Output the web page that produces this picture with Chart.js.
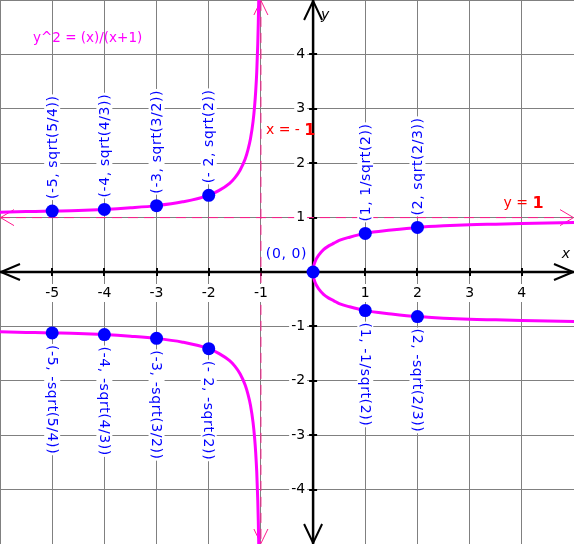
<!DOCTYPE html>
<html>
<head>
<meta charset="utf-8">
<script src="https://cdn.jsdelivr.net/npm/chart.js@4"></script>
<style>
html,body{margin:0;padding:0;background:#fff;overflow:hidden;}
canvas{display:block;}
</style>
</head>
<body>
<canvas id="c" width="574" height="544"></canvas>
<script>
// ---- data ----
const titleText = "y^2 = (x)/(x+1)";

// upper-left branch
const leftX     = [-6, -5.5, -5, -4.5, -4, -3.5, -3, -2.5, -2, -1.8, -1.6, -1.5, -1.4, -1.3, -1.25, -1.2, -1.15, -1.12, -1.1, -1.08, -1.06, -1.05, -1.04];
const leftUpY   = [1.10, 1.11, 1.12, 1.13, 1.15, 1.18, 1.22, 1.29, 1.41, 1.50, 1.63, 1.73, 1.87, 2.08, 2.24, 2.45, 2.77, 3.06, 3.32, 3.67, 4.20, 4.58, 5.10];
const leftDownY = [-1.10, -1.11, -1.12, -1.13, -1.15, -1.18, -1.22, -1.29, -1.41, -1.50, -1.63, -1.73, -1.87, -2.08, -2.24, -2.45, -2.77, -3.06, -3.32, -3.67, -4.20, -4.58, -5.10];

// right branch
const rightX     = [0, 0.01, 0.02, 0.05, 0.1, 0.2, 0.3, 0.4, 0.5, 0.7, 1, 1.5, 2, 2.5, 3, 3.5, 4, 4.5, 5];
const rightUpY   = [0, 0.10, 0.14, 0.22, 0.30, 0.41, 0.48, 0.53, 0.58, 0.64, 0.71, 0.77, 0.82, 0.85, 0.87, 0.88, 0.89, 0.90, 0.91];
const rightDownY = [0, -0.10, -0.14, -0.22, -0.30, -0.41, -0.48, -0.53, -0.58, -0.64, -0.71, -0.77, -0.82, -0.85, -0.87, -0.88, -0.89, -0.90, -0.91];

// marked points and their labels
const pointX = [-5, -4, -3, -2, -5, -4, -3, -2, 0, 1, 2, 1, 2];
const pointY = [1.12, 1.15, 1.22, 1.41, -1.12, -1.15, -1.22, -1.41, 0, 0.71, 0.82, -0.71, -0.82];
const pointLabels = [
  "(-5, sqrt(5/4))", "(-4, sqrt(4/3))", "(-3, sqrt(3/2))", "(- 2, sqrt(2))",
  "(-5, -sqrt(5/4))", "(-4, -sqrt(4/3))", "(-3, -sqrt(3/2))", "(- 2, -sqrt(2))",
  "(0, 0)",
  "(1, 1/sqrt(2))", "(2, sqrt(2/3))",
  "(1, -1/sqrt(2))", "(2, -sqrt(2/3))"
];

// asymptotes
const asymptoteXValue = -1;
const asymptoteYValue = 1;

// tick labels
const xTicks = [-5, -4, -3, -2, -1, 1, 2, 3, 4];
const xTickLabels = ["-5", "-4", "-3", "-2", "-1", "1", "2", "3", "4"];
const yTicks = [4, 3, 2, 1, -1, -2, -3, -4];
const yTickLabels = ["4", "3", "2", "1", "-1", "-2", "-3", "-4"];

// ---- build chart ----
const FONT = '"DejaVu Sans", Verdana, sans-serif';
const MAGENTA = '#ff00ff';
const PINK = '#ff1a8c';
const BLUE = '#0000ff';

function pairs(xs, ys) { return xs.map((v, i) => ({x: v, y: ys[i]})); }

function boxText(ctx, text, x, y, align) {
  const w = ctx.measureText(text).width;
  let left = x;
  if (align === 'center') left = x - w / 2;
  else if (align === 'right') left = x - w;
  ctx.save();
  ctx.fillStyle = '#fff';
  ctx.fillRect(left - 2, y - 9, w + 4, 18);
  ctx.restore();
  ctx.textAlign = 'left';
  ctx.textBaseline = 'middle';
  ctx.fillText(text, left, y);
}

const decorPlugin = {
  id: 'decor',
  beforeDatasetsDraw(chart) {
    const {ctx, chartArea: a, scales: {x, y}} = chart;
    const x0 = x.getPixelForValue(0), y0 = y.getPixelForValue(0);
    ctx.save();
    // asymptote arrowheads
    ctx.strokeStyle = PINK; ctx.lineWidth = 1;
    const ay = y.getPixelForValue(asymptoteYValue);
    const ax = x.getPixelForValue(asymptoteXValue);
    ctx.beginPath();
    ctx.moveTo(a.left + 14, ay - 8); ctx.lineTo(a.left + 0.5, ay); ctx.lineTo(a.left + 14, ay + 8);
    ctx.moveTo(a.right - 14, ay - 8); ctx.lineTo(a.right - 0.5, ay); ctx.lineTo(a.right - 14, ay + 8);
    ctx.moveTo(ax - 7, a.top + 15); ctx.lineTo(ax, a.top + 0.5); ctx.lineTo(ax + 7, a.top + 15);
    ctx.moveTo(ax - 7, a.bottom - 15); ctx.lineTo(ax, a.bottom - 0.5); ctx.lineTo(ax + 7, a.bottom - 15);
    ctx.stroke();

    // axes
    ctx.strokeStyle = '#000'; ctx.lineWidth = 2.5; ctx.lineCap = 'butt';
    ctx.beginPath();
    ctx.moveTo(a.left, y0); ctx.lineTo(a.right, y0);
    ctx.moveTo(x0, a.top); ctx.lineTo(x0, a.bottom);
    ctx.stroke();
    ctx.lineWidth = 2;
    ctx.beginPath();
    ctx.moveTo(a.left + 20, y0 - 8); ctx.lineTo(a.left + 1, y0); ctx.lineTo(a.left + 20, y0 + 8);
    ctx.moveTo(a.right - 20, y0 - 8); ctx.lineTo(a.right - 1, y0); ctx.lineTo(a.right - 20, y0 + 8);
    ctx.moveTo(x0 - 9, a.top + 20); ctx.lineTo(x0, a.top + 1); ctx.lineTo(x0 + 9, a.top + 20);
    ctx.moveTo(x0 - 9, a.bottom - 20); ctx.lineTo(x0, a.bottom - 1); ctx.lineTo(x0 + 9, a.bottom - 20);
    // tick marks
    xTicks.forEach(v => { const p = Math.round(x.getPixelForValue(v)); ctx.moveTo(p, y0 - 4); ctx.lineTo(p, y0 + 4); });
    yTicks.forEach(v => { const p = Math.round(y.getPixelForValue(v)); ctx.moveTo(x0 - 4, p); ctx.lineTo(x0 + 4, p); });
    ctx.stroke();
    ctx.restore();
  },
  afterDatasetsDraw(chart) {
    const {ctx, chartArea: a, scales: {x, y}} = chart;
    const x0 = x.getPixelForValue(0), y0 = y.getPixelForValue(0);
    ctx.save();
    // tick labels
    ctx.font = '14px ' + FONT;
    ctx.fillStyle = '#000';
    xTicks.forEach((v, i) => boxText(ctx, xTickLabels[i], x.getPixelForValue(v), y0 + 21, 'center'));
    yTicks.forEach((v, i) => boxText(ctx, yTickLabels[i], x0 - 8, y.getPixelForValue(v), 'right'));

    // axis names
    ctx.font = 'italic 14px ' + FONT;
    ctx.textAlign = 'center'; ctx.textBaseline = 'middle';
    ctx.fillText('x', a.right - 8, y0 - 18);
    ctx.fillText('y', x0 + 12, a.top + 15);

    // title
    ctx.font = '13.5px ' + FONT;
    ctx.fillStyle = MAGENTA;
    ctx.textAlign = 'left';
    ctx.fillText(titleText, 33, 38);

    // asymptote labels
    ctx.fillStyle = '#ff0000';
    let lx = x.getPixelForValue(asymptoteXValue) + 5;
    let ly = y.getPixelForValue(2.6);
    ctx.font = '14px ' + FONT;
    ctx.fillText('x = - ', lx, ly);
    let w = ctx.measureText('x = - ').width;
    ctx.font = 'bold 16px ' + FONT;
    ctx.fillText('1', lx + w, ly);
    lx = x.getPixelForValue(3.65);
    ly = y.getPixelForValue(asymptoteYValue) - 14;
    ctx.font = '14px ' + FONT;
    ctx.fillText('y = ', lx, ly);
    w = ctx.measureText('y = ').width;
    ctx.font = 'bold 16px ' + FONT;
    ctx.fillText('1', lx + w, ly);

    // point labels
    ctx.font = '14px ' + FONT;
    ctx.letterSpacing = '0.6px';
    ctx.fillStyle = BLUE;
    pointLabels.forEach((t, i) => {
      const px = x.getPixelForValue(pointX[i]);
      const py = y.getPixelForValue(pointY[i]);
      const tw = ctx.measureText(t).width;
      if (pointY[i] === 0) {
        ctx.save();
        ctx.textAlign = 'right'; ctx.textBaseline = 'middle';
        ctx.fillText(t, px - 6, py - 18);
        ctx.restore();
        return;
      }
      ctx.save();
      if (pointY[i] > 0) { ctx.translate(px, py - 12); ctx.rotate(-Math.PI / 2); }
      else { ctx.translate(px, py + 12); ctx.rotate(Math.PI / 2); }
      ctx.fillStyle = '#fff';
      ctx.fillRect(-1, -8, tw + 2, 16);
      ctx.fillStyle = BLUE;
      ctx.textAlign = 'left'; ctx.textBaseline = 'middle';
      ctx.fillText(t, 0, 1);
      ctx.restore();
    });
    ctx.restore();
  }
};

const curveStyle = {
  showLine: true, borderColor: MAGENTA, borderWidth: 3, pointRadius: 0,
  cubicInterpolationMode: 'monotone', fill: false
};
const dashStyle = {
  showLine: true, borderColor: PINK, borderWidth: 1, pointRadius: 0,
  borderDash: [10, 6], fill: false
};

new Chart(document.getElementById('c'), {
  type: 'scatter',
  data: {
    datasets: [
      { data: pairs(pointX, pointY), pointRadius: 6.5, pointBackgroundColor: BLUE, pointBorderColor: BLUE, pointBorderWidth: 0, showLine: false },
      Object.assign({ data: pairs(leftX, leftUpY) }, curveStyle),
      Object.assign({ data: pairs(leftX, leftDownY) }, curveStyle),
      Object.assign({ data: pairs(rightX, rightUpY) }, curveStyle),
      Object.assign({ data: pairs(rightX, rightDownY) }, curveStyle),
      Object.assign({ data: [{x: -6, y: asymptoteYValue}, {x: 5, y: asymptoteYValue}] }, dashStyle),
      Object.assign({ data: [{x: asymptoteXValue, y: -5.2}, {x: asymptoteXValue, y: 5.2}] }, dashStyle)
    ]
  },
  options: {
    responsive: false,
    animation: false,
    events: [],
    layout: { padding: 0, autoPadding: false },
    plugins: { legend: { display: false }, tooltip: { enabled: false }, title: { display: false } },
    scales: {
      x: {
        type: 'linear', min: -6, max: 5,
        ticks: { display: false, stepSize: 1 },
        grid: { color: '#808080', lineWidth: 1, drawTicks: false },
        border: { display: false }
      },
      y: {
        type: 'linear', min: -5, max: 5,
        ticks: { display: false, stepSize: 1 },
        grid: { color: '#808080', lineWidth: 1, drawTicks: false },
        border: { display: false }
      }
    }
  },
  plugins: [decorPlugin]
});
</script>
</body>
</html>
